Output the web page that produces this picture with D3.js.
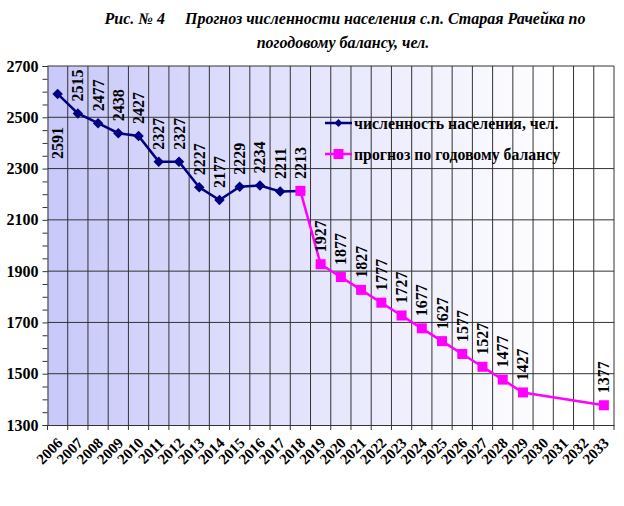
<!DOCTYPE html>
<html><head><meta charset="utf-8">
<script src="https://cdn.jsdelivr.net/npm/d3@7"></script>
<style>body{margin:0;background:#fff}svg{display:block}text{font-family:"Liberation Serif","Times New Roman",serif;font-weight:bold}</style>
</head><body>
<script>
const years = d3.range(2006, 2034).map(String);
const actualYears = ["2006","2007","2008","2009","2010","2011","2012","2013","2014","2015","2016","2017","2018"];
const actualValues = [2591,2515,2477,2438,2427,2327,2327,2227,2177,2229,2234,2211,2213];
const forecastYears = ["2018","2019","2020","2021","2022","2023","2024","2025","2026","2027","2028","2029","2033"];
const forecastValues = [2213,1927,1877,1827,1777,1727,1677,1627,1577,1527,1477,1427,1377];
const yTicks = [1300,1500,1700,1900,2100,2300,2500,2700];
const seriesNames = ["численность населения, чел.","прогноз по годовому балансу"];
const titleLines = ["Рис. № 4     Прогноз численности населения с.п. Старая Рачейка по","погодовому балансу, чел."];

const W=624,H=506;
const m={l:47.5,r:10,t:66,b:81};
const svg=d3.select("body").append("svg").attr("width",W).attr("height",H);
const x=d3.scaleBand().domain(years).range([m.l,W-m.r]);
const y=d3.scaleLinear().domain([1300,2700]).range([H-m.b,m.t]);
const cx=d=>x(d)+x.bandwidth()/2;

const defs=svg.append("defs");
const g=defs.append("linearGradient").attr("id","bg").attr("x1","0").attr("x2","1").attr("y1","0").attr("y2","0");
g.append("stop").attr("offset","0").attr("stop-color","#c8c8fa");
g.append("stop").attr("offset","0.9").attr("stop-color","#ffffff");
g.append("stop").attr("offset","1").attr("stop-color","#ffffff");
svg.append("rect").attr("x",m.l).attr("y",m.t).attr("width",W-m.r-m.l).attr("height",H-m.b-m.t).attr("fill","url(#bg)");

// title
svg.append("g").selectAll("text").data(titleLines).join("text")
  .attr("x",(d,i)=>i===0?345:343).attr("y",(d,i)=>24+i*24).attr("text-anchor","middle")
  .attr("font-size",16).attr("font-style","italic").attr("xml:space","preserve").style("white-space","pre").text(d=>d);

// vertical grid
svg.append("g").selectAll("line").data(years.slice(1)).join("line")
  .attr("x1",d=>x(d)).attr("x2",d=>x(d)).attr("y1",m.t).attr("y2",H-m.b)
  .attr("stroke","#333").attr("stroke-width",1);
// horizontal grid
svg.append("g").selectAll("line").data(yTicks.slice(1)).join("line")
  .attr("x1",m.l).attr("x2",W-m.r).attr("y1",d=>y(d)).attr("y2",d=>y(d))
  .attr("stroke","#333").attr("stroke-width",1);
// right border
svg.append("line").attr("x1",W-m.r).attr("x2",W-m.r).attr("y1",m.t).attr("y2",H-m.b).attr("stroke","#333");

// y axis
const ya=svg.append("g").attr("transform",`translate(${m.l},0)`)
  .call(d3.axisLeft(y).tickValues(d3.range(1300,2701,50)).tickSize(5).tickFormat(d=>yTicks.includes(d)?d:""));
ya.select(".domain").attr("stroke","#333");
ya.selectAll(".tick line").attr("stroke","#333");
ya.selectAll(".tick text").attr("x",-9).attr("font-size",16).attr("fill","#000").style("font-family","Liberation Serif").style("font-weight","bold");

// x axis
const xa=svg.append("g").attr("transform",`translate(0,${H-m.b})`)
  .call(d3.axisBottom(x).tickSize(0).tickFormat(""));
xa.select(".domain").attr("stroke","#333");
svg.append("g").selectAll("line").data(years.concat(["end"])).join("line")
  .attr("x1",(d,i)=>m.l+i*x.step()).attr("x2",(d,i)=>m.l+i*x.step())
  .attr("y1",H-m.b).attr("y2",H-m.b+5).attr("stroke","#333");
svg.append("g").selectAll("text").data(years).join("text")
  .attr("transform",d=>`translate(${cx(d)+6},${H-m.b+19}) rotate(-45)`)
  .attr("text-anchor","end").attr("font-size",15).text(d=>d);

// lines
const line=d3.line().x(d=>cx(d[0])).y(d=>y(d[1]));
const act=actualYears.map((d,i)=>[d,actualValues[i]]);
const fc=forecastYears.map((d,i)=>[d,forecastValues[i]]);
svg.append("path").datum(act).attr("d",line).attr("fill","none").attr("stroke","#000080").attr("stroke-width",2.5);
svg.append("g").selectAll("path").data(act).join("path")
  .attr("d",d3.symbol(d3.symbolDiamond2,70)).attr("transform",d=>`translate(${cx(d[0])},${y(d[1])})`).attr("fill","#000080");
svg.append("path").datum(fc).attr("d",line).attr("fill","none").attr("stroke","#ff00ff").attr("stroke-width",2.5);
svg.append("g").selectAll("rect").data(fc).join("rect")
  .attr("x",d=>cx(d[0])-5).attr("y",d=>y(d[1])-5).attr("width",10).attr("height",10).attr("fill","#ff00ff");

// data labels
const labels=act.slice(0,-1).concat(fc);
svg.append("g").selectAll("text").data(labels).join("text")
  .attr("transform",(d,i)=>`translate(${cx(d[0])},${y(d[1])+(i===0?49:-28)}) rotate(-90)`)
  .attr("text-anchor","middle").attr("dominant-baseline","central").attr("font-size",16).text(d=>d[1]);

// legend
const lg=svg.append("g").attr("transform","translate(325,0)");
[0,1].forEach(i=>{
  const yy=i===0?123:154;
  lg.append("line").attr("x1",0).attr("x2",27).attr("y1",yy).attr("y2",yy).attr("stroke",i===0?"#000080":"#ff00ff").attr("stroke-width",2.5);
  if(i===0) lg.append("path").attr("d",d3.symbol(d3.symbolDiamond2,40)).attr("transform",`translate(13.5,${yy})`).attr("fill","#000080");
  else lg.append("rect").attr("x",8.5).attr("y",yy-5).attr("width",10).attr("height",10).attr("fill","#ff00ff");
  lg.append("text").attr("x",29).attr("y",yy).attr("dominant-baseline","central").attr("font-size",15.8).text(seriesNames[i]);
});
</script>
</body></html>
